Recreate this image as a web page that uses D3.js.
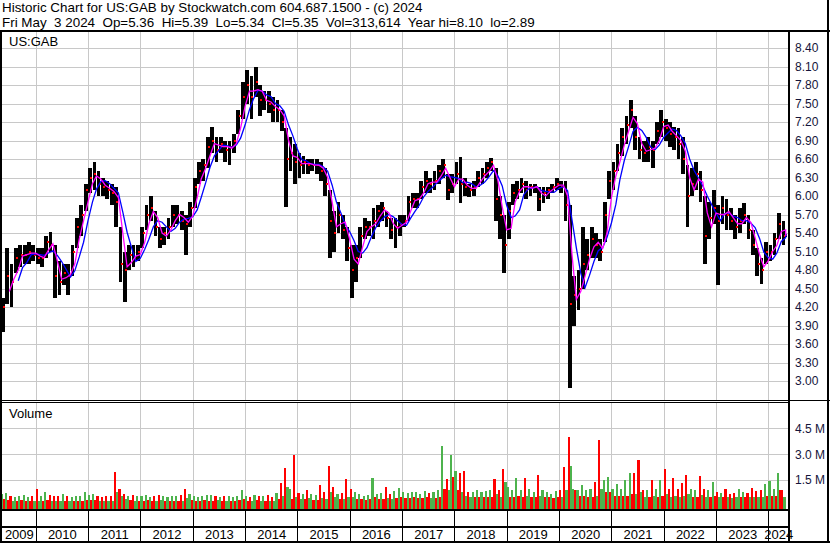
<!DOCTYPE html>
<html><head><meta charset="utf-8">
<script src="https://cdn.jsdelivr.net/npm/d3@7"></script>
<style>body{margin:0;background:#fff}svg{display:block}text{font-family:"Liberation Sans",Arial,sans-serif}</style>
</head><body><svg id="c" width="830" height="543"></svg>
<script>
// ---------- DATA (monthly, May 2009 .. May 2024) ----------
const firstMonth = [2009, 4]; // May 2009
const lastDay = [2024, 4, 3];  // Fri May 3 2024
const hi = [
  4.35,5.15,4.90,5.15,5.20,5.20,5.25,5.20,                      // 2009
  5.15,5.15,5.35,5.42,5.20,4.95,4.90,4.90,5.20,5.65,5.85,6.20,  // 2010
  6.45,6.55,6.40,6.30,6.25,6.20,6.15,5.50,5.10,5.20,5.20,5.20,  // 2011
  5.50,5.85,6.00,5.75,5.50,5.50,5.65,5.85,5.85,5.75,5.70,5.90,  // 2012
  6.30,6.55,6.60,6.95,7.12,6.95,6.95,6.90,6.90,7.00,7.40,7.85,  // 2013
  8.05,7.95,8.10,7.80,7.70,7.70,7.60,7.55,7.40,7.10,6.95,6.85,  // 2014
  6.70,6.65,6.60,6.60,6.60,6.55,6.45,6.10,5.75,5.90,5.70,5.50,  // 2015
  5.20,5.20,5.50,5.65,5.60,5.80,5.85,5.90,5.75,5.65,5.65,5.70,  // 2016
  5.70,6.00,6.05,6.05,6.25,6.40,6.30,6.40,6.50,6.60,6.35,6.35,  // 2017
  6.55,6.63,6.30,6.20,6.25,6.40,6.45,6.55,6.62,6.45,6.00,5.70,  // 2018
  5.90,6.20,6.25,6.30,6.25,6.20,6.20,6.15,6.15,6.15,6.20,6.30,  // 2019
  6.25,6.25,5.85,4.70,4.80,5.50,5.30,5.50,5.40,5.30,5.90,6.40,  // 2020
  6.55,6.85,7.10,7.30,7.56,7.30,6.95,6.90,6.95,6.90,7.20,7.40,  // 2021
  7.25,7.20,7.12,7.10,6.95,6.50,6.45,6.55,6.40,6.00,5.90,6.10,  // 2022
  5.85,6.00,5.95,5.80,5.70,5.80,5.88,5.70,5.45,5.15,5.00,5.25,  // 2023
  5.20,5.40,5.72,5.60,5.39                                      // 2024
];
const lo = [
  3.80,4.25,4.20,4.75,4.85,4.90,4.90,4.95,
  4.90,4.85,5.00,5.10,4.35,4.40,4.55,4.40,4.70,5.15,5.35,5.75,
  6.05,6.10,6.00,6.00,5.95,5.85,5.50,4.60,4.28,4.80,4.85,4.95,
  5.15,5.45,5.60,5.35,5.15,5.20,5.30,5.50,5.55,5.45,5.05,5.50,
  5.80,6.20,6.25,6.45,6.70,6.55,6.70,6.55,6.50,6.70,7.00,7.25,
  7.50,7.25,7.60,7.30,7.40,7.35,7.20,7.20,7.05,5.82,6.40,6.20,
  6.30,6.35,6.35,6.40,6.35,6.25,6.00,5.00,5.10,5.40,5.30,4.95,
  4.35,4.60,5.00,5.30,5.35,5.30,5.50,5.60,5.50,5.30,5.15,5.35,
  5.50,5.60,5.80,5.80,5.95,6.05,6.05,6.10,6.20,6.30,5.93,6.05,
  6.20,5.88,6.00,5.98,6.00,6.15,6.20,6.30,6.40,5.60,5.30,4.75,
  5.30,5.85,5.95,6.05,5.95,6.00,6.05,5.75,5.88,5.95,6.05,6.10,
  6.05,5.60,2.89,3.90,4.15,4.50,4.80,5.00,5.00,4.95,5.25,5.95,
  6.10,6.40,6.65,6.85,7.10,6.75,6.60,6.55,6.55,6.45,6.85,6.95,
  6.90,6.80,6.75,6.60,6.35,5.50,6.00,6.10,5.90,4.90,5.30,5.55,
  4.55,5.55,5.45,5.45,5.30,5.40,5.55,5.30,5.05,4.70,4.58,4.90,
  4.95,5.05,5.30,5.20,5.34
];
const cl = [
  4.20,4.70,4.60,5.00,5.05,5.05,5.10,5.05,
  5.00,5.00,5.25,5.20,4.70,4.60,4.75,4.70,5.10,5.50,5.70,6.10,
  6.30,6.35,6.20,6.15,6.10,6.05,5.90,4.90,4.80,5.05,5.00,5.10,
  5.40,5.70,5.80,5.50,5.30,5.40,5.50,5.70,5.70,5.60,5.55,5.80,
  6.15,6.40,6.50,6.80,6.90,6.75,6.85,6.75,6.80,6.90,7.30,7.60,
  7.80,7.60,7.85,7.55,7.55,7.50,7.40,7.40,7.20,6.60,6.70,6.55,
  6.50,6.55,6.50,6.50,6.50,6.40,6.20,5.60,5.40,5.70,5.45,5.15,
  4.80,5.00,5.35,5.50,5.50,5.60,5.75,5.80,5.65,5.45,5.50,5.55,
  5.60,5.90,5.95,5.95,6.15,6.25,6.20,6.25,6.40,6.50,6.10,6.20,
  6.35,6.20,6.15,6.10,6.15,6.30,6.35,6.45,6.55,5.95,5.70,5.20,
  5.75,6.05,6.10,6.20,6.10,6.15,6.15,5.95,6.05,6.10,6.15,6.20,
  6.15,5.85,4.25,4.40,4.50,4.90,5.05,5.30,5.20,5.10,5.70,6.25,
  6.40,6.70,6.95,7.15,7.40,6.95,6.75,6.70,6.80,6.75,7.05,7.20,
  7.10,7.00,6.95,6.85,6.60,6.00,6.20,6.35,6.10,5.35,5.65,5.80,
  5.60,5.80,5.70,5.60,5.50,5.60,5.70,5.45,5.20,4.90,4.80,5.10,
  5.10,5.30,5.55,5.35,5.35
];
// volume in millions: biggest session of the month, and a typical session
const volPeak = [
  0.70,0.75,0.60,0.55,0.60,0.65,0.55,0.60,
  1.00,0.60,0.80,0.65,0.60,0.60,0.70,0.60,0.55,0.60,0.60,0.80,
  0.65,0.70,0.60,0.55,0.60,0.60,1.95,1.00,0.70,0.60,0.65,0.60,
  0.60,0.65,0.55,0.60,0.65,0.60,0.55,0.60,0.60,0.65,1.00,0.70,
  0.60,0.55,0.60,0.65,0.65,0.60,0.55,0.60,0.60,0.55,0.60,0.90,
  0.60,0.55,0.65,0.60,0.60,0.65,0.55,0.75,1.35,2.20,1.00,2.95,
  0.75,0.70,0.95,0.70,0.65,1.20,0.80,2.30,1.10,0.70,0.75,1.55,
  1.00,0.80,0.70,0.60,0.65,1.65,0.70,0.75,1.10,0.70,0.85,1.05,
  0.80,0.75,0.80,0.80,0.70,0.85,0.75,0.80,0.90,3.50,1.55,2.95,
  2.05,1.90,2.00,0.80,0.80,0.95,0.80,0.85,0.90,1.55,0.90,2.15,
  1.10,0.90,1.60,0.90,1.60,1.00,0.80,1.80,0.95,0.80,0.70,0.85,
  0.90,2.25,4.00,1.00,0.90,1.20,0.95,1.00,1.40,3.85,1.50,1.70,
  1.00,1.30,1.00,1.50,1.90,1.90,2.65,0.95,0.90,1.50,1.00,1.50,
  2.15,1.00,1.60,1.00,1.35,1.80,1.00,0.90,1.75,1.00,0.90,1.40,
  0.80,0.75,1.00,0.70,0.75,1.00,0.80,0.75,1.05,0.85,0.90,1.30,
  1.45,1.00,1.90,0.90,0.40
];
const volBase = [
  0.40,0.35,0.30,0.30,0.35,0.30,0.30,0.30,
  0.30,0.30,0.35,0.30,0.30,0.30,0.30,0.30,0.30,0.30,0.30,0.35,
  0.35,0.35,0.30,0.30,0.30,0.30,0.80,0.60,0.40,0.35,0.30,0.30,
  0.30,0.35,0.30,0.30,0.35,0.30,0.30,0.30,0.30,0.30,0.45,0.35,
  0.30,0.30,0.35,0.30,0.30,0.35,0.30,0.30,0.30,0.30,0.35,0.40,
  0.30,0.30,0.35,0.30,0.30,0.30,0.30,0.40,0.60,1.10,0.40,0.50,
  0.40,0.40,0.45,0.35,0.35,0.45,0.40,0.80,0.50,0.40,0.40,0.55,
  0.50,0.40,0.40,0.35,0.40,0.55,0.40,0.40,0.45,0.40,0.45,0.50,
  0.45,0.45,0.50,0.45,0.45,0.50,0.45,0.45,0.50,1.00,0.90,1.70,
  0.90,0.80,0.60,0.50,0.50,0.50,0.50,0.50,0.50,0.70,0.50,1.40,
  0.55,0.50,0.60,0.50,0.60,0.50,0.50,0.60,0.50,0.50,0.45,0.50,
  0.50,0.90,2.30,0.90,0.60,0.60,0.55,0.55,0.60,1.00,0.80,0.80,
  0.60,0.60,0.60,0.60,0.70,0.70,0.80,0.55,0.55,0.60,0.55,0.60,
  0.70,0.55,0.60,0.55,0.60,0.70,0.55,0.55,0.65,0.55,0.50,0.60,
  0.50,0.50,0.55,0.45,0.50,0.55,0.50,0.50,0.55,0.50,0.55,0.60,
  0.60,0.60,0.90,0.50,0.30
];
const priceTicks = [8.40,8.10,7.80,7.50,7.20,6.90,6.60,6.30,6.00,5.70,5.40,5.10,4.80,4.50,4.20,3.90,3.60,3.30,3.00];
const volTicks = [1.5, 3.0, 4.5];
const yearLabels = [2009,2010,2011,2012,2013,2014,2015,2016,2017,2018,2019,2020,2021,2022,2023,2024];
const maFastMonths = 2, maSlowMonths = 4; // moving-average windows (monthly closes)
const header1 = "Historic Chart for US:GAB by Stockwatch.com 604.687.1500 - (c) 2024";
const header2 = "Fri May  3 2024  Op=5.36  Hi=5.39  Lo=5.34  Cl=5.35  Vol=313,614  Year hi=8.10  lo=2.89";
const symbol = "US:GAB";
const volTitle = "Volume";

// ---------- LAYOUT ----------
const W = 830, H = 543;
const L = 2, R = 788;
const pTop = 32, pBot = 400;
const vTop = 402, vBot = 509;
const rowBot = 526, labBot = 541;
const GRID = "#c8c8c8";
const TXT = "#14143a";

const svg = d3.select("#c");
svg.append("rect").attr("width", W).attr("height", H).attr("fill", "#fff");

const x = d3.scaleTime().domain([new Date(2010,0,1), new Date(2024,0,1)]).range([35.7, 768.3]);
const y = d3.scaleLinear().domain([3.00, 8.40]).range([381, 48]);
const yv = d3.scaleLinear().domain([0, 4.5]).range([506, 428.3]);

const N = hi.length;
const mStart = i => new Date(firstMonth[0], firstMonth[1] + i, 1);
const mEnd = i => i === N - 1 ? new Date(lastDay[0], lastDay[1], lastDay[2]) : new Date(firstMonth[0], firstMonth[1] + i + 1, 1);

const defs = svg.append("defs");
defs.append("clipPath").attr("id","cp").append("rect").attr("x",L).attr("y",pTop).attr("width",R-L).attr("height",pBot-pTop);
defs.append("clipPath").attr("id","cv").append("rect").attr("x",L).attr("y",vTop+1).attr("width",R-L).attr("height",vBot-vTop-1);

const yearBounds = d3.timeYear.range(new Date(2010,0,1), new Date(2024,0,2));

// gridlines
const g = svg.append("g").attr("shape-rendering","crispEdges");
yearBounds.forEach(d => {
  const xx = Math.round(x(d)) + 0.5;
  g.append("line").attr("x1",xx).attr("x2",xx).attr("y1",pTop).attr("y2",pBot).attr("stroke",GRID);
  g.append("line").attr("x1",xx).attr("x2",xx).attr("y1",vTop).attr("y2",vBot).attr("stroke",GRID);
});
priceTicks.forEach(v => {
  const yy = Math.round(y(v)) + 0.5;
  g.append("line").attr("x1",L).attr("x2",R).attr("y1",yy).attr("y2",yy).attr("stroke",GRID);
});
volTicks.forEach(v => {
  const yy = Math.round(yv(v)) + 0.5;
  g.append("line").attr("x1",L).attr("x2",R).attr("y1",yy).attr("y2",yy).attr("stroke",GRID);
});

// price bars
const pb = svg.append("g").attr("clip-path","url(#cp)").attr("shape-rendering","crispEdges");
d3.range(N).forEach(i => {
  const x0 = x(mStart(i)), x1 = x(mEnd(i));
  const w = Math.max(1.2, x1 - x0 - 0.6);
  pb.append("rect").attr("x", x0 + 0.2).attr("width", w)
    .attr("y", y(hi[i])).attr("height", Math.max(1, y(lo[i]) - y(hi[i]))).attr("fill","#000");
});
d3.range(N).forEach(i => {
  const x1 = x(mEnd(i));
  pb.append("rect").attr("x", x1 - 2).attr("width", 2)
    .attr("y", y(cl[i]) - 1).attr("height", 2).attr("fill","#ff0000");
});

// moving averages computed from the closes
const ma = n => d3.range(n - 1, N).map(i => ({d: mEnd(i), v: d3.mean(cl.slice(i - n + 1, i + 1))}));
const line = d3.line().x(p => x(p.d)).y(p => y(p.v));
const mg = svg.append("g").attr("clip-path","url(#cp)");
mg.append("path").attr("d", line(ma(maSlowMonths))).attr("fill","none").attr("stroke","#0000ff").attr("stroke-width",1.3);
mg.append("path").attr("d", line(ma(maFastMonths))).attr("fill","none").attr("stroke","#ff00ff").attr("stroke-width",1.3);

// volume bars
const vb = svg.append("g").attr("clip-path","url(#cv)").attr("shape-rendering","crispEdges");
const RED = "#ff0000", GREEN = "#4db34d";
d3.range(N).forEach(i => {
  const x0 = x(mStart(i)), x1 = x(mEnd(i));
  const mid = x0 + (x1 - x0) / 2;
  const up = i === 0 ? true : cl[i] >= cl[i-1];
  const cPeak = up ? GREEN : RED, cBase = up ? RED : GREEN;
  vb.append("rect").attr("x", x0).attr("width", mid - x0).attr("y", yv(volPeak[i])).attr("height", vBot - yv(volPeak[i])).attr("fill", cPeak);
  vb.append("rect").attr("x", mid).attr("width", x1 - mid).attr("y", yv(volBase[i])).attr("height", vBot - yv(volBase[i])).attr("fill", cBase);
});

// frame lines
const f = svg.append("g").attr("shape-rendering","crispEdges").attr("fill","#000");
f.append("rect").attr("x",0).attr("y",30).attr("width",W).attr("height",2);
f.append("rect").attr("x",0).attr("y",30).attr("width",2).attr("height",H-30);
f.append("rect").attr("x",827).attr("y",0).attr("width",2).attr("height",H);
f.append("rect").attr("x",788).attr("y",30).attr("width",2).attr("height",labBot-30);
f.append("rect").attr("x",0).attr("y",400).attr("width",W).attr("height",1);
f.append("rect").attr("x",0).attr("y",402).attr("width",789).attr("height",1);
f.append("rect").attr("x",0).attr("y",vBot).attr("width",789).attr("height",2);
f.append("rect").attr("x",0).attr("y",rowBot).attr("width",789).attr("height",2);
f.append("rect").attr("x",0).attr("y",labBot).attr("width",W).attr("height",2);
yearBounds.forEach(d => {
  const xx = Math.round(x(d));
  f.append("rect").attr("x",xx).attr("y",vBot).attr("width",1).attr("height",labBot-vBot);
});

// year labels centred between year boundaries
const bnds = [new Date(2009,0,1), ...yearBounds, new Date(2025,0,1)];
yearLabels.forEach((yr, k) => {
  const a = Math.max(L, x(bnds[k])), b = Math.min(R, x(bnds[k+1]));
  svg.append("text").attr("x", (a + b) / 2 + 0.5).attr("y", 538.5).attr("text-anchor","middle")
    .attr("font-size","13px").attr("fill","#000").text(yr);
});

// right axes
const ax = svg.append("g").attr("transform","translate(790,0)")
  .call(d3.axisRight(y).tickValues(priceTicks).tickFormat(d3.format(".2f")).tickSize(0).tickPadding(5));
ax.select(".domain").remove();
ax.selectAll("text").attr("font-size","12px").attr("font-family","'Liberation Sans',Arial,sans-serif").attr("fill",TXT);
const avx = svg.append("g").attr("transform","translate(790,0)")
  .call(d3.axisRight(yv).tickValues(volTicks).tickFormat(d => d.toFixed(1) + " M").tickSize(0).tickPadding(5));
avx.select(".domain").remove();
avx.selectAll("text").attr("font-size","12px").attr("font-family","'Liberation Sans',Arial,sans-serif").attr("fill",TXT);

// texts
svg.append("text").attr("x",2).attr("y",12).attr("font-size","13.4px").attr("fill","#000").style("white-space","pre").text(header1);
svg.append("text").attr("x",2).attr("y",27).attr("font-size","13.4px").attr("fill","#000").style("white-space","pre").text(header2);
svg.append("text").attr("x",9).attr("y",46).attr("font-size","13px").attr("fill","#000").text(symbol);
svg.append("text").attr("x",9).attr("y",418).attr("font-size","13px").attr("fill","#000").text(volTitle);
</script></body></html>
